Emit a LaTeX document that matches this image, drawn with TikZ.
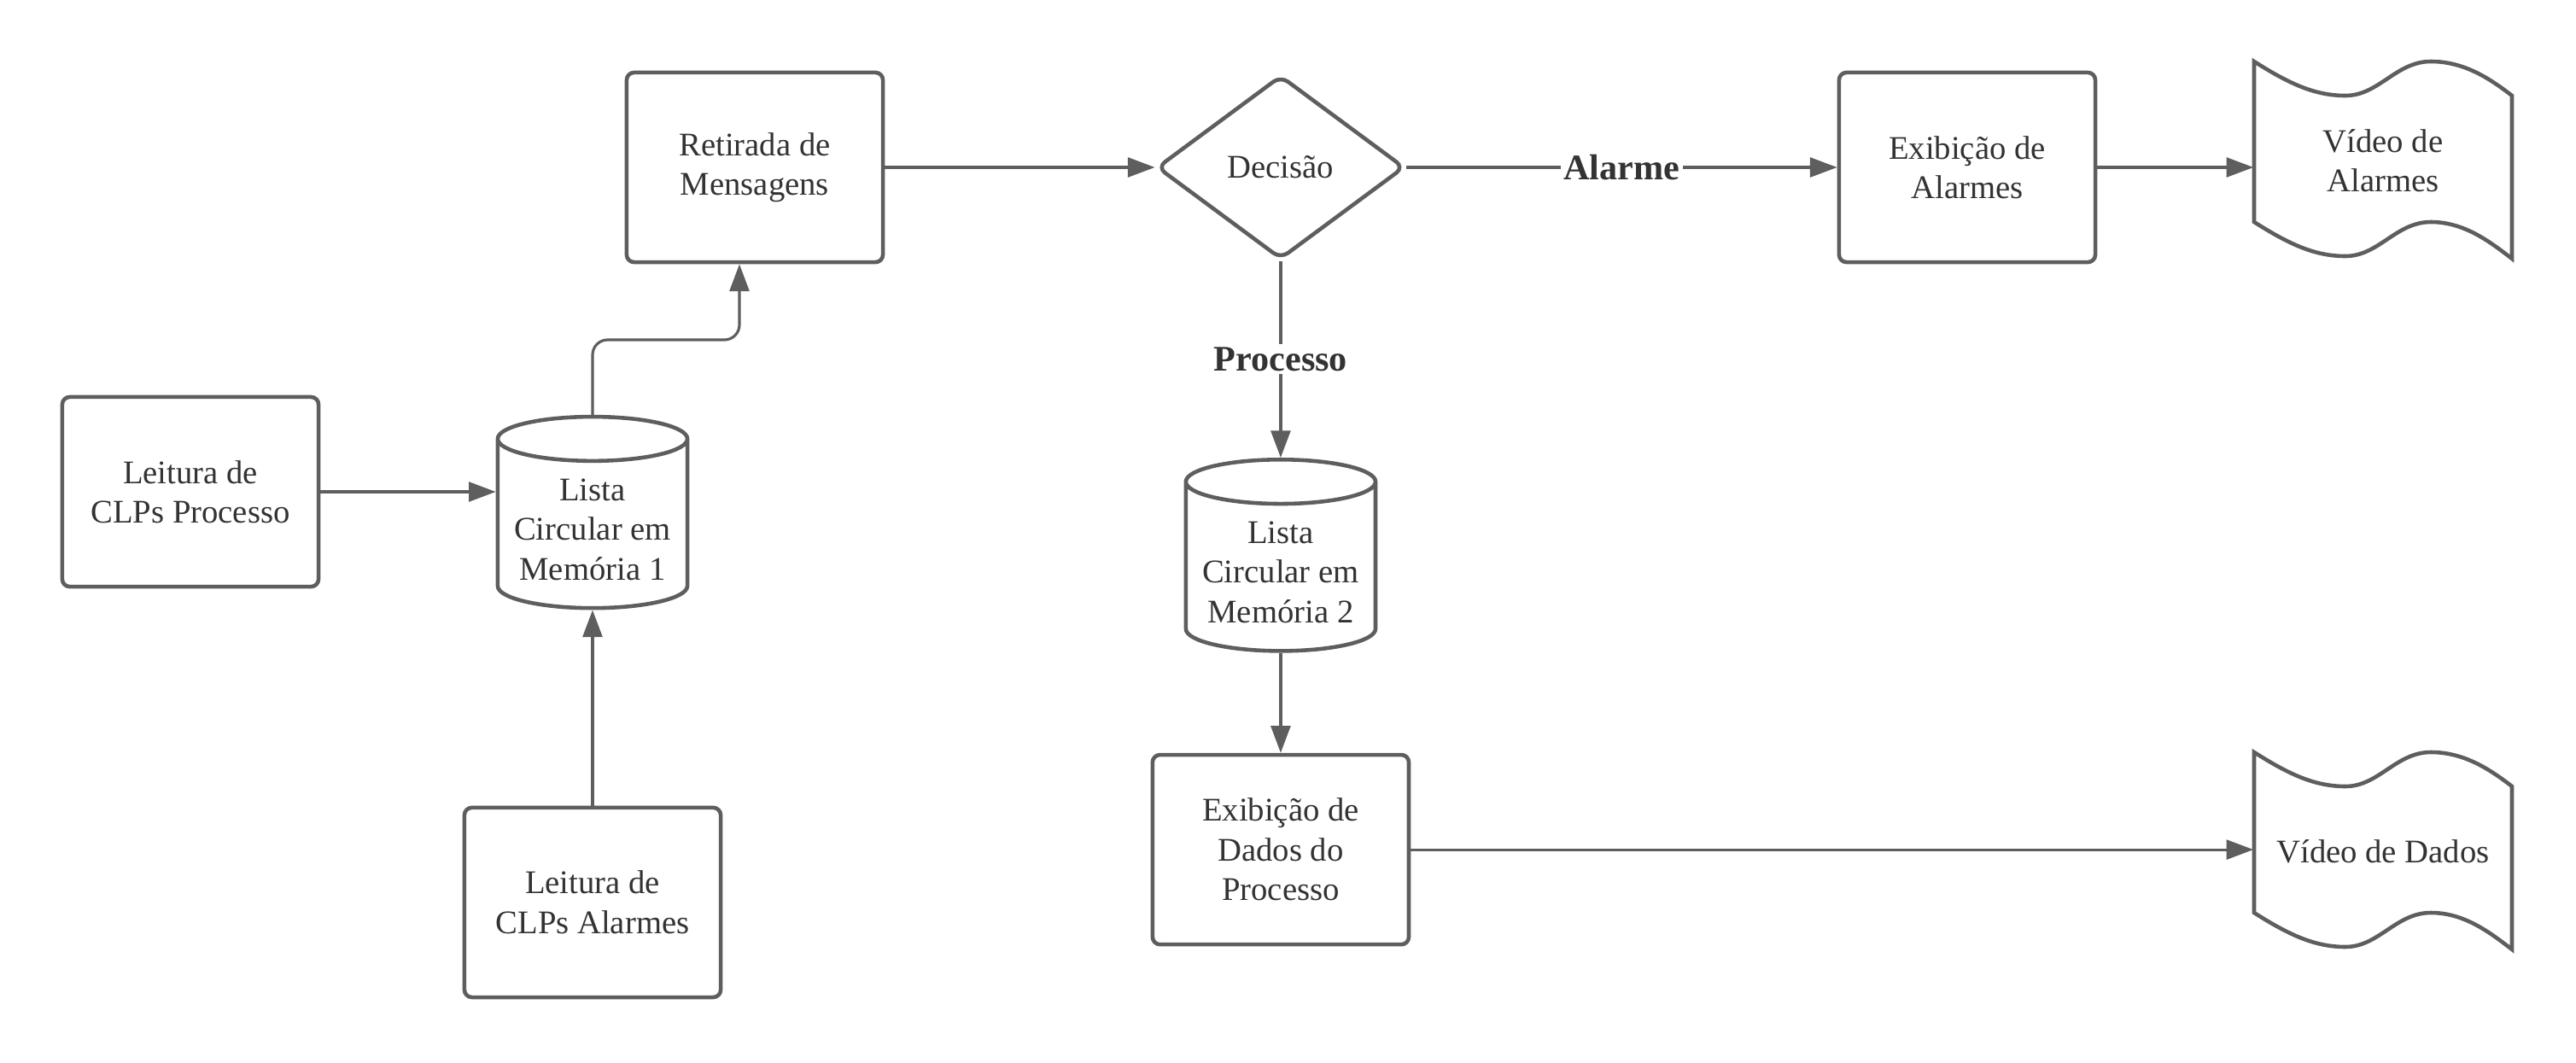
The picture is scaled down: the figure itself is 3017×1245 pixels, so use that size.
\documentclass[tikz,border=0pt]{standalone}
\usepackage{fontspec}
\setmainfont{Liberation Serif}
\usepackage{tikz}
\usetikzlibrary{arrows.meta,shapes.geometric,positioning,calc}
\definecolor{lcgray}{RGB}{94,94,94}
\definecolor{lctext}{RGB}{51,51,51}
\tikzstyle{process} = [rectangle, rounded corners=2.5pt, minimum width=3cm, minimum height=2.22cm, align=center, draw=lcgray, line width=1.3pt, fill=white, text=lctext, font=\fontsize{11}{13.2}\selectfont]
\tikzstyle{decision} = [diamond, rounded corners=3pt, minimum width=2.9cm, minimum height=2.15cm, align=center, draw=lcgray, line width=1.3pt, fill=white, text=lctext, font=\fontsize{11}{13.2}\selectfont]
\tikzstyle{store} = [cylinder, shape border rotate=90, aspect=0.25, minimum width=2.22cm, minimum height=2.24cm, align=center, draw=lcgray, line width=1.3pt, fill=white, text=lctext, font=\fontsize{11}{13.2}\selectfont]
\tikzstyle{video} = [rectangle, minimum width=3.02cm, minimum height=1.9cm, align=center, text=lctext, font=\fontsize{11}{13.2}\selectfont]
\tikzstyle{wave} = [draw=lcgray, line width=1.3pt, fill=white]
\tikzstyle{arrow} = [line width=0.9pt, -{Triangle[length=9pt,width=6.5pt]}, color=lcgray]
\tikzstyle{flowlabel} = [fill=white, inner sep=1pt, text=lctext, font=\bfseries\fontsize{12}{14}\selectfont]

\begin{document}
\begin{tikzpicture}[x=0.01cm, y=-0.01cm]
\useasboundingbox (0,0) rectangle (3017,1245);

\node[process] (lp) at (223,576) {Leitura de\\CLPs Processo};
\node[store] (cyl1) at (694,620) {Lista\\Circular em\\Memória 1};
\node[process, below=2.29cm of cyl1] (la) {Leitura de\\CLPs Alarmes};
\node[process] (ret) at (884,196) {Retirada de\\Mensagens};
\node[decision, right=3.16cm of ret] (dec) {Decisão};
\node[process, right=5.04cm of dec] (exa) {Exibição de\\Alarmes};
\node[store, below=2.30cm of dec] (cyl2) {Lista\\Circular em\\Memória 2};
\node[process, below=1.17cm of cyl2] (exd) {Exibição de\\Dados do\\Processo};

% video outputs
\draw[wave, shift={(2791,188)}] (-151,-116) .. controls (-110,-90) and (-80,-76) .. (-44,-76) .. controls (-5,-76) and (15,-116) .. (56,-116) .. controls (95,-116) and (125,-96) .. (151,-76) -- (151,115) .. controls (125,95) and (95,72) .. (56,72) .. controls (15,72) and (-5,112) .. (-44,112) .. controls (-80,112) and (-110,98) .. (-151,72) -- cycle;
\node[video] (va) at (2791,188) {Vídeo de\\Alarmes};
\draw[wave, shift={(2791,997)}] (-151,-116) .. controls (-110,-90) and (-80,-76) .. (-44,-76) .. controls (-5,-76) and (15,-116) .. (56,-116) .. controls (95,-116) and (125,-96) .. (151,-76) -- (151,115) .. controls (125,95) and (95,72) .. (56,72) .. controls (15,72) and (-5,112) .. (-44,112) .. controls (-80,112) and (-110,98) .. (-151,72) -- cycle;
\node[video] (vd) at (2791,997) {Vídeo de Dados};

\coordinate (bend) at (866,398);

\draw[arrow] (lp.east) -- (lp.east -| cyl1.west);
\draw[arrow] (la.north) -- (cyl1.south);
\draw[arrow, rounded corners=5pt] (cyl1.north) |- (bend) -- (bend |- ret.south);
\draw[arrow] (ret.east) -- (dec.west);
\draw[arrow] (dec.east) -- node[flowlabel] {Alarme} (exa.west);
\draw[arrow] (dec.south) -- node[flowlabel] {Processo} (cyl2.north);
\draw[arrow] (cyl2.south) -- (exd.north);
\draw[arrow] (exa.east) -- (exa.east -| va.west);
\draw[arrow] (exd.east) -- (exd.east -| vd.west);
\end{tikzpicture}
\end{document}
